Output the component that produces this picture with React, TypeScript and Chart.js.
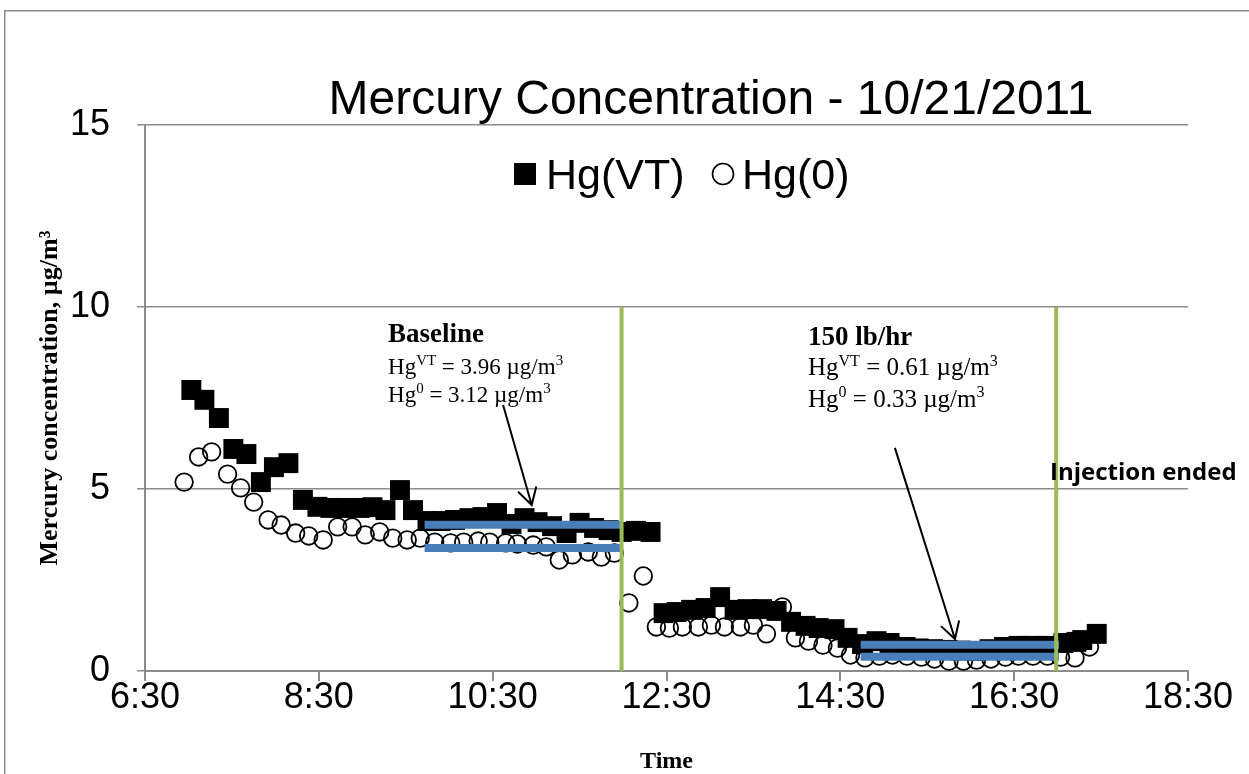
import React, { useEffect, useRef } from 'react';
import { Chart, registerables } from 'chart.js';

Chart.register(...registerables);

// ---- data ----
const hgVtTimes = [
  '7:02', '7:11', '7:21', '7:31', '7:40', '7:50', '7:59', '8:09', '8:19', '8:29',
  '8:38', '8:48', '8:58', '9:07', '9:16', '9:26', '9:35', '9:45', '9:54', '10:04',
  '10:14', '10:23', '10:33', '10:43', '10:52', '11:01', '11:11', '11:21', '11:30', '11:40',
  '11:50', '11:59', '12:09', '12:19', '12:28', '12:37', '12:47', '12:57', '13:07', '13:17',
  '13:26', '13:36', '13:46', '13:56', '14:06', '14:15', '14:26', '14:35', '14:45', '14:55',
  '15:04', '15:15', '15:24', '15:34', '15:44', '15:53', '16:04', '16:13', '16:23', '16:33',
  '16:42', '16:53', '17:04', '17:13', '17:17', '17:27',
];
const hgVtValues = [
  7.72, 7.45, 6.95, 6.10, 5.96, 5.19, 5.60, 5.71, 4.70, 4.51,
  4.48, 4.48, 4.48, 4.50, 4.42, 4.97, 4.42, 4.12, 4.12, 4.15,
  4.20, 4.23, 4.34, 4.04, 4.20, 4.09, 3.98, 3.79, 4.07, 3.93,
  3.87, 3.82, 3.85, 3.82, 1.59, 1.62, 1.68, 1.73, 2.03, 1.68,
  1.70, 1.70, 1.65, 1.35, 1.24, 1.18, 1.15, 0.91, 0.74, 0.82,
  0.77, 0.66, 0.62, 0.60, 0.58, 0.56, 0.55, 0.60, 0.66, 0.69,
  0.69, 0.69, 0.77, 0.80, 0.85, 1.02,
];
const hg0Times = [
  '6:57', '7:07', '7:16', '7:27', '7:36', '7:45', '7:55', '8:04', '8:14', '8:23',
  '8:33', '8:43', '8:53', '9:02', '9:12', '9:21', '9:31', '9:40', '9:50', '10:01',
  '10:10', '10:20', '10:28', '10:39', '10:47', '10:58', '11:07', '11:16', '11:25', '11:36',
  '11:45', '11:54', '12:04', '12:14', '12:23', '12:32', '12:41', '12:52', '13:01', '13:10',
  '13:21', '13:30', '13:39', '13:50', '13:59', '14:08', '14:18', '14:28', '14:37', '14:47',
  '14:57', '15:06', '15:16', '15:26', '15:35', '15:45', '15:55', '16:04', '16:14', '16:24',
  '16:33', '16:43', '16:53', '17:02', '17:12', '17:22',
];
const hg0Values = [
  5.19, 5.88, 6.02, 5.41, 5.03, 4.64, 4.15, 4.01, 3.79, 3.71,
  3.60, 3.96, 3.96, 3.74, 3.82, 3.65, 3.60, 3.65, 3.54, 3.52,
  3.54, 3.57, 3.54, 3.52, 3.49, 3.46, 3.41, 3.05, 3.19, 3.27,
  3.13, 3.24, 1.87, 2.61, 1.21, 1.18, 1.21, 1.21, 1.26, 1.21,
  1.21, 1.26, 1.02, 1.76, 0.91, 0.82, 0.71, 0.63, 0.44, 0.36,
  0.41, 0.44, 0.41, 0.38, 0.33, 0.27, 0.27, 0.30, 0.33, 0.38,
  0.41, 0.41, 0.41, 0.38, 0.36, 0.66,
];

const xTickLabels = ['6:30', '8:30', '10:30', '12:30', '14:30', '16:30', '18:30'];
const yTickValues = [0, 5, 10, 15];

// averaging periods (drawn bars)
const periodStarts = ['9:43', '14:44'];
const periodEnds = ['11:59', '17:01'];
const periodVtLevels = [4.02, 0.72];
const period0Levels = [3.38, 0.39];
// vertical event markers
const eventTimes = ['11:59', '16:59'];
const eventTop = 10;

const titleText = 'Mercury Concentration - 10/21/2011';
const seriesLabels = ['Hg(VT)', 'Hg(0)'];

const toHours = (s: string) => {
  const [h, m] = s.split(':').map(Number);
  return h + m / 60;
};

const SANS = '"Liberation Sans", Arial, sans-serif';
const SERIF = '"Liberation Serif", "Times New Roman", serif';

type Part = { t: string; sup?: boolean };

function drawRich(ctx: CanvasRenderingContext2D, x: number, y: number, parts: Part[], size: number) {
  let cx = x;
  for (const p of parts) {
    if (p.sup) {
      ctx.font = `${Math.round(size * 0.64)}px ${SERIF}`;
      ctx.fillText(p.t, cx, y - size * 0.38);
    } else {
      ctx.font = `${size}px ${SERIF}`;
      ctx.fillText(p.t, cx, y);
    }
    cx += ctx.measureText(p.t).width;
  }
}

function drawArrow(ctx: CanvasRenderingContext2D, x1: number, y1: number, x2: number, y2: number) {
  ctx.save();
  ctx.strokeStyle = '#000';
  ctx.lineWidth = 2;
  ctx.beginPath();
  ctx.moveTo(x1, y1);
  ctx.lineTo(x2, y2);
  const ang = Math.atan2(y1 - y2, x1 - x2);
  const len = 19;
  const spread = (30 * Math.PI) / 180;
  ctx.moveTo(x2 + len * Math.cos(ang + spread), y2 + len * Math.sin(ang + spread));
  ctx.lineTo(x2, y2);
  ctx.lineTo(x2 + len * Math.cos(ang - spread), y2 + len * Math.sin(ang - spread));
  ctx.stroke();
  ctx.restore();
}

const overlayPlugin = {
  id: 'overlay',
  beforeDraw(chart: any) {
    const ctx = chart.ctx as CanvasRenderingContext2D;
    ctx.save();
    ctx.fillStyle = '#fff';
    ctx.fillRect(0, 0, chart.width, chart.height);
    ctx.strokeStyle = '#8a8a8a';
    ctx.lineWidth = 1.5;
    ctx.strokeRect(4.75, 10.75, 1400, 900);
    ctx.restore();
  },
  afterDraw(chart: any) {
    const ctx = chart.ctx as CanvasRenderingContext2D;
    const xs = chart.scales.x;
    const ys = chart.scales.y;
    const X = (t: number) => xs.getPixelForValue(t);
    const Y = (v: number) => ys.getPixelForValue(v);
    ctx.save();
    ctx.fillStyle = '#000';
    ctx.textBaseline = 'alphabetic';
    ctx.textAlign = 'left';

    // title
    ctx.font = `48px ${SANS}`;
    ctx.textAlign = 'center';
    ctx.fillText(titleText, 711, 114);

    // legend
    ctx.textAlign = 'left';
    ctx.font = `43px ${SANS}`;
    ctx.fillRect(514, 163, 22, 22);
    ctx.fillText(seriesLabels[0], 546, 189);
    ctx.beginPath();
    ctx.lineWidth = 1.6;
    ctx.strokeStyle = '#000';
    ctx.arc(723, 174, 10.5, 0, Math.PI * 2);
    ctx.stroke();
    ctx.fillText(seriesLabels[1], 742, 189);

    // annotations (positioned in data units)
    const ann1x = X(9.296);
    ctx.font = `bold 27px ${SERIF}`;
    ctx.fillText('Baseline', ann1x, Y(9.05));
    drawRich(ctx, ann1x, Y(8.16), [{ t: 'Hg' }, { t: 'VT', sup: true }, { t: ' = 3.96 \u00b5g/m' }, { t: '3', sup: true }], 23);
    drawRich(ctx, ann1x, Y(7.40), [{ t: 'Hg' }, { t: '0', sup: true }, { t: ' = 3.12 \u00b5g/m' }, { t: '3', sup: true }], 23);

    const ann2x = X(14.128);
    ctx.font = `bold 27px ${SERIF}`;
    ctx.fillText('150 lb/hr', ann2x, Y(8.96));
    drawRich(ctx, ann2x, Y(8.13), [{ t: 'Hg' }, { t: 'VT', sup: true }, { t: ' = 0.61 \u00b5g/m' }, { t: '3', sup: true }], 25);
    drawRich(ctx, ann2x, Y(7.26), [{ t: 'Hg' }, { t: '0', sup: true }, { t: ' = 0.33 \u00b5g/m' }, { t: '3', sup: true }], 25);

    ctx.font = `bold 24px "Open Sans", ${SANS}`;
    ctx.fillText('Injection ended', X(16.912), Y(5.25));

    drawArrow(ctx, X(10.62), Y(7.31), X(10.949), Y(4.56));
    drawArrow(ctx, X(15.128), Y(6.13), X(15.819), Y(0.88));
    ctx.restore();
  },
};

export default function App() {
  const ref = useRef<HTMLCanvasElement | null>(null);

  useEffect(() => {
    if (!ref.current) return;
    const vtPts = hgVtTimes.map((t, i) => ({ x: toHours(t), y: hgVtValues[i] }));
    const h0Pts = hg0Times.map((t, i) => ({ x: toHours(t), y: hg0Values[i] }));

    const datasets: any[] = [
      {
        label: seriesLabels[0],
        data: vtPts,
        pointStyle: 'rect',
        pointRadius: 14.1,
        backgroundColor: '#000',
        borderColor: '#000',
        borderWidth: 0,
        showLine: false,
        order: 10,
      },
      {
        label: seriesLabels[1],
        data: h0Pts,
        pointStyle: 'circle',
        pointRadius: 8.8,
        backgroundColor: 'rgba(0,0,0,0)',
        borderColor: '#000',
        borderWidth: 1.8,
        showLine: false,
        order: 9,
      },
    ];
    periodStarts.forEach((s, i) => {
      [periodVtLevels[i], period0Levels[i]].forEach((lvl) => {
        datasets.push({
          label: 'avg',
          data: [
            { x: toHours(s), y: lvl },
            { x: toHours(periodEnds[i]), y: lvl },
          ],
          showLine: true,
          borderColor: '#4a7ebb',
          borderWidth: 8,
          borderCapStyle: 'butt',
          pointRadius: 0,
          order: 5,
        });
      });
    });
    eventTimes.forEach((t) => {
      datasets.push({
        label: 'event',
        data: [
          { x: toHours(t), y: 0 },
          { x: toHours(t), y: eventTop },
        ],
        showLine: true,
        borderColor: '#9bbb59',
        borderWidth: 4,
        borderCapStyle: 'butt',
        pointRadius: 0,
        order: 4,
      });
    });

    const gridGray = '#8c8c8c';
    const chart = new Chart(ref.current, {
      type: 'scatter',
      data: { datasets },
      plugins: [overlayPlugin],
      options: {
        animation: false,
        responsive: false,
        events: [],
        layout: { padding: { top: 125, right: 61, left: 0, bottom: 0 } },
        plugins: {
          legend: { display: false },
          title: { display: false },
          tooltip: { enabled: false },
        },
        scales: {
          x: {
            type: 'linear',
            min: toHours(xTickLabels[0]),
            max: toHours(xTickLabels[xTickLabels.length - 1]),
            afterBuildTicks: (scale: any) => {
              scale.ticks = xTickLabels.map((l) => ({ value: toHours(l) }));
            },
            afterFit: (scale: any) => {
              scale.height = 103;
            },
            ticks: {
              autoSkip: false,
              maxRotation: 0,
              padding: -1,
              color: '#000',
              font: { family: SANS, size: 36, lineHeight: 1 },
              callback: (_v: any, i: number) => xTickLabels[i],
            },
            grid: {
              drawOnChartArea: false,
              drawTicks: true,
              tickLength: 10,
              color: gridGray,
              lineWidth: 2,
            },
            border: { display: true, color: gridGray, width: 2 },
            title: {
              display: true,
              text: 'Time',
              color: '#000',
              font: { family: SERIF, size: 24, weight: 'bold', lineHeight: 1.2 },
              padding: { top: 0, bottom: -2 },
            },
          },
          y: {
            type: 'linear',
            min: yTickValues[0],
            max: yTickValues[yTickValues.length - 1],
            afterBuildTicks: (scale: any) => {
              scale.ticks = yTickValues.map((v) => ({ value: v }));
            },
            afterFit: (scale: any) => {
              scale.width = 145;
            },
            ticks: {
              padding: 27,
              color: '#000',
              font: { family: SANS, size: 36 },
              callback: (v: any) => String(v),
            },
            grid: {
              drawTicks: true,
              tickLength: 8,
              color: gridGray,
              lineWidth: 1.5,
            },
            border: { display: true, color: gridGray, width: 2 },
            title: {
              display: true,
              text: 'Mercury concentration, \u00b5g/m\u00b3',
              color: '#000',
              font: { family: SERIF, size: 26, weight: 'bold', lineHeight: 1.2 },
              padding: { top: 35, bottom: 0 },
            },
          },
        },
      } as any,
    });
    return () => chart.destroy();
  }, []);

  return (
    <div style={{ position: 'fixed', left: 0, top: 0, width: 1249, height: 774, background: '#fff' }}>
      <canvas ref={ref} width={1249} height={774} style={{ display: 'block', width: 1249, height: 774 }} />
    </div>
  );
}
